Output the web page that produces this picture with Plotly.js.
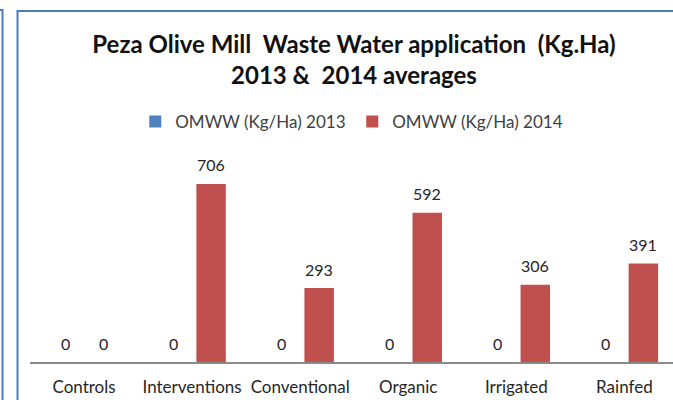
<!DOCTYPE html>
<html>
<head>
<meta charset="utf-8">
<script src="https://cdn.plot.ly/plotly-3.0.1.min.js"></script>
<style>html,body{margin:0;padding:0;background:#fff;}#chart{width:673px;height:400px;}</style>
</head>
<body>
<div id="chart"></div>
<script>
const categories = ["Controls", "Interventions", "Conventional", "Organic", "Irrigated", "Rainfed"];
const omww2013 = [0, 0, 0, 0, 0, 0];
const omww2014 = [0, 706, 293, 592, 306, 391];
const seriesNames = ["OMWW (Kg/Ha) 2013", "OMWW (Kg/Ha) 2014"];
const titleLines = ["Peza Olive Mill  Waste Water application  (Kg.Ha)", "2013 &amp;  2014 averages"];

const colors = ["#4F81BD", "#C0504D"];
const labelFont = {family: "Lato, 'Open Sans', sans-serif", size: 16, color: "#262626"};
const tickFont = {family: "Lato, 'Open Sans', sans-serif", size: 17, color: "#262626"};

const traces = [omww2013, omww2014].map((vals, i) => ({
  type: "bar",
  name: seriesNames[i],
  x: categories,
  y: vals,
  marker: {color: colors[i]},
  hoverinfo: "x+y+name"
}));

const annotations = [];
[omww2013, omww2014].forEach((vals, i) => {
  vals.forEach((v, j) => {
    annotations.push({
      x: categories[j], y: v, xref: "x", yref: "y",
      text: String(v), showarrow: false,
      xshift: i === 0 ? -19 : 19, yshift: 19,
      xanchor: "center", yanchor: "middle",
      font: labelFont
    });
  });
});

const frameColor = "#4A7EBB";
const layout = {
  width: 673, height: 400,
  margin: {l: 30, r: 0, t: 135, b: 38, pad: 0},
  paper_bgcolor: "#ffffff",
  plot_bgcolor: "#ffffff",
  barmode: "group",
  bargap: 0.297,
  bargroupgap: 0.224,
  title: {
    text: titleLines.join("<br>"),
    font: {family: "Lato, 'Open Sans', sans-serif", size: 24, color: "#111111", weight: "bold"},
    x: 0.526, xanchor: "center", xref: "container",
    y: 1 - 53/400, yanchor: "top", yref: "container"
  },
  showlegend: true,
  legend: {
    orientation: "h",
    x: 0.1637, xanchor: "left",
    y: 1.0573, yanchor: "middle",
    entrywidth: 172, entrywidthmode: "pixels",
    font: {family: "Lato, 'Open Sans', sans-serif", size: 17, color: "#404040"},
    bgcolor: "rgba(0,0,0,0)"
  },
  xaxis: {
    type: "category",
    range: [-0.5, 5.45],
    showgrid: false, zeroline: false,
    showline: true, linecolor: "#8a8a8a", linewidth: 1.5,
    ticks: "", ticklabelstandoff: 9,
    tickfont: tickFont,
    fixedrange: true
  },
  yaxis: {
    range: [0, 900],
    visible: false,
    showgrid: false, zeroline: false,
    fixedrange: true
  },
  annotations: annotations,
  shapes: [
    {type: "path", xref: "paper", yref: "paper",
     path: "M -0.01944 -0.25 L -0.01944 1.5463 L 1.1 1.5463",
     line: {color: frameColor, width: 2}},
    {type: "path", xref: "paper", yref: "paper",
     path: "M -0.07 1.5507 L -0.04277 1.5507 L -0.04277 -0.25",
     line: {color: frameColor, width: 2}}
  ]
};

Plotly.newPlot("chart", traces, layout, {displayModeBar: false, staticPlot: true});
</script>
</body>
</html>
